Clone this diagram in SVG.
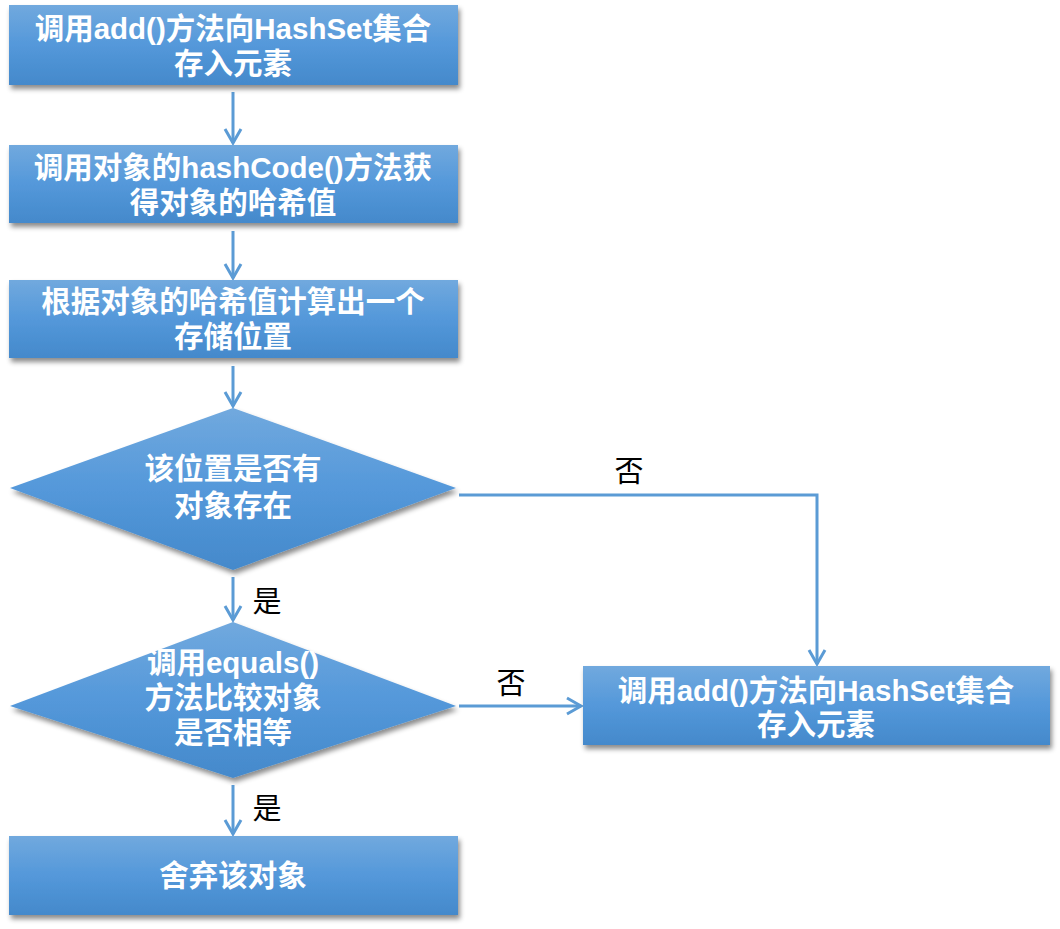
<svg xmlns="http://www.w3.org/2000/svg" width="1060" height="929" viewBox="0 0 1060 929">
<defs>
<linearGradient id="g" x1="0" y1="0" x2="0" y2="1">
<stop offset="0" stop-color="#71a9de"/>
<stop offset="0.5" stop-color="#5498da"/>
<stop offset="1" stop-color="#4489cb"/>
</linearGradient>
<filter id="sh" x="-10%" y="-10%" width="125%" height="130%">
<feDropShadow dx="2" dy="4" stdDeviation="2.5" flood-color="#000" flood-opacity="0.45"/>
</filter>
<marker id="arr" viewBox="0 0 20 20" refX="17" refY="10" markerWidth="20" markerHeight="20" markerUnits="userSpaceOnUse" orient="auto">
<path d="M3,2 L17,10 L3,18" fill="none" stroke="#5b9bd5" stroke-width="3"/>
</marker>
</defs>
<style>
.n{fill:url(#g);filter:url(#sh)}
.t{font-family:"Liberation Sans","Noto Sans CJK SC",sans-serif;font-weight:bold;font-size:29.5px;fill:#fff;text-anchor:middle}
.l{font-family:"Noto Sans CJK SC",sans-serif;font-size:29px;fill:#000;text-anchor:middle}
.c{fill:none;stroke:#5b9bd5;stroke-width:3;marker-end:url(#arr)}
</style>
<rect width="1060" height="929" fill="#fff"/>
<g id="connectors">
<line class="c" x1="233" y1="92" x2="233" y2="143"/>
<line class="c" x1="233" y1="231" x2="233" y2="278"/>
<line class="c" x1="233" y1="366" x2="233" y2="406"/>
<line class="c" x1="233" y1="577" x2="233" y2="620"/>
<line class="c" x1="233" y1="785" x2="233" y2="834"/>
<polyline class="c" points="459,495 817,495 817,664"/>
<line class="c" x1="459" y1="706" x2="581" y2="706"/>
<text class="l" x="267" y="612">是</text>
<text class="l" x="267" y="819">是</text>
<text class="l" x="629" y="482">否</text>
<text class="l" x="511" y="694">否</text>
</g>
<g id="n1">
<rect class="n" x="9" y="5" width="449" height="80"/>
<text class="t" x="233" y="39">调用add()方法向HashSet集合</text>
<text class="t" x="233" y="74">存入元素</text>
</g>
<g id="n2">
<rect class="n" x="9" y="145" width="449" height="78"/>
<text class="t" x="233" y="178">调用对象的hashCode()方法获</text>
<text class="t" x="233" y="213">得对象的哈希值</text>
</g>
<g id="n3">
<rect class="n" x="9" y="280" width="449" height="78"/>
<text class="t" x="233" y="312">根据对象的哈希值计算出一个</text>
<text class="t" x="233" y="347">存储位置</text>
</g>
<g id="n4">
<polygon class="n" points="233,408 456,488 233,570 10,488"/>
<text class="t" x="233" y="479">该位置是否有</text>
<text class="t" x="233" y="516">对象存在</text>
</g>
<g id="n5">
<polygon class="n" points="233,622 456,706 233,778 10,706"/>
<text class="t" x="233" y="673">调用equals()</text>
<text class="t" x="233" y="708">方法比较对象</text>
<text class="t" x="233" y="743">是否相等</text>
</g>
<g id="n6">
<rect class="n" x="583" y="666" width="467" height="79"/>
<text class="t" x="816" y="701">调用add()方法向HashSet集合</text>
<text class="t" x="816" y="735">存入元素</text>
</g>
<g id="n7">
<rect class="n" x="9" y="836" width="449" height="79"/>
<text class="t" x="233" y="886">舍弃该对象</text>
</g>
</svg>
